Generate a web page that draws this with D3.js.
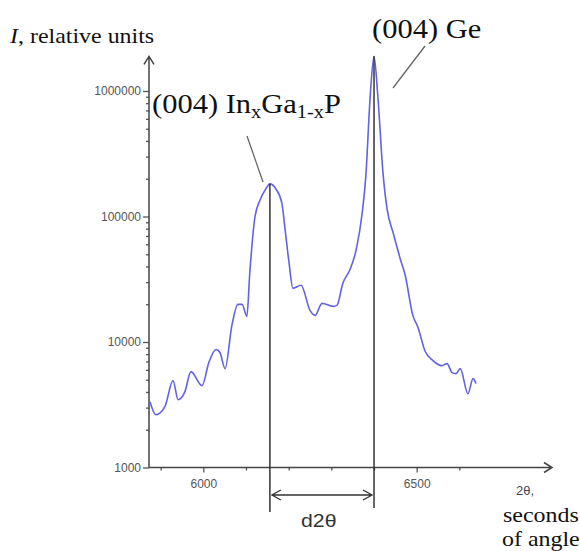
<!DOCTYPE html>
<meta charset="utf-8">
<style>
body { margin: 0; background: #fff; }
.tick text { font-family: "Liberation Sans", Arial, sans-serif; font-size: 12px; fill: #555; }
.axis line { stroke: #555; stroke-width: 1.3; }
.serif { font-family: "Liberation Serif", "Times New Roman", serif; fill: #111; }
</style>
<body>
<svg width="580" height="551" id="vis"></svg>
</body>
<script src="https://d3js.org/d3.v7.min.js"></script>
<script>
// 2theta (seconds of angle) and intensity (relative units)
var twoTheta = [5875, 5889, 5910, 5929, 5941, 5957, 5971, 5997, 6013, 6030, 6039, 6051,
  6067, 6081, 6091, 6102, 6109, 6121, 6133, 6145, 6156, 6170, 6184, 6191, 6201, 6210,
  6229, 6250, 6262, 6278, 6304, 6313, 6327, 6344, 6358, 6372, 6381, 6391, 6400, 6409,
  6421, 6431, 6445, 6461, 6473, 6491, 6503, 6520, 6538, 6559, 6571, 6583, 6592, 6602,
  6620, 6632, 6639];
var intensity = [3340, 2630, 3050, 4920, 3470, 4020, 5810, 4490, 6860, 8710, 8240, 6140,
  13550, 19950, 19950, 16000, 35980, 99080, 135500, 162900, 181970, 165960, 128230, 82410, 42460, 26790,
  28310, 17870, 16290, 20320, 19230, 19590, 29380, 38020, 53950, 104700, 214800, 903600, 1888000, 903600,
  222800, 112700, 73790, 46560, 34040, 16290, 13060, 8395, 7112, 6486, 6730, 5702, 5598, 6138,
  3873, 5105, 4656];

var yMajor = [1000, 10000, 100000, 1000000];
var yMinor = [];
[1000, 10000, 100000].forEach(function(d){ for (var k = 2; k < 10; k++) yMinor.push(d * k); });
var xMajor = [6000, 6500];
var xMinor = [5900, 6100, 6200, 6300, 6400, 6600];

var peakPos = [6156, 6400];      // (004) InGaP, (004) Ge
var peakI = [181970, 1888000];

var svg = d3.select("svg");

var x = d3.scaleLinear().domain([6000, 6500]).range([203.3, 416.7]);
var y = d3.scaleLog().domain([1000, 1000000]).range([467.5, 91]);

var x0 = 149, yTop = y(1888000), xEnd = 552;

// axes
svg.append("g").attr("class", "axis")
  .attr("transform", "translate(" + x0 + ",0)")
  .call(d3.axisLeft(y).tickValues(yMajor).tickSize(6).tickPadding(2).tickFormat(d3.format("d")));
svg.append("g").attr("class", "axis")
  .attr("transform", "translate(" + x0 + ",0)")
  .call(d3.axisLeft(y).tickValues(yMinor).tickSize(3).tickFormat(""));
svg.append("g").attr("class", "axis")
  .attr("transform", "translate(0," + y(1000) + ")")
  .call(d3.axisBottom(x).tickValues(xMajor).tickSize(5).tickPadding(7).tickFormat(d3.format("d")));
svg.append("g").attr("class", "axis")
  .attr("transform", "translate(0," + y(1000) + ")")
  .call(d3.axisBottom(x).tickValues(xMinor).tickSize(3).tickFormat(""));
svg.selectAll(".axis .domain").remove();

var axisCol = "#444";
svg.append("path")
  .attr("d", "M" + x0 + "," + y(1000) + "V" + yTop + "M" + (x0 - 5) + "," + (yTop + 8) + "L" + x0 + "," + yTop + "L" + (x0 + 5) + "," + (yTop + 8))
  .attr("fill", "none").attr("stroke", axisCol).attr("stroke-width", 1.5);
svg.append("path")
  .attr("d", "M" + x0 + "," + y(1000) + "H" + xEnd + "M" + (xEnd - 8) + "," + (y(1000) - 5) + "L" + xEnd + "," + y(1000) + "L" + (xEnd - 8) + "," + (y(1000) + 5))
  .attr("fill", "none").attr("stroke", axisCol).attr("stroke-width", 1.5);

// curve
var data = twoTheta.map(function(d, i){ return [d, intensity[i]]; });
var line = d3.line()
  .x(function(d){ return x(d[0]); })
  .y(function(d){ return y(d[1]); })
  .curve(d3.curveMonotoneX);
svg.append("path").datum(data)
  .attr("d", line)
  .attr("fill", "none")
  .attr("stroke", "#6262e4")
  .attr("stroke-width", 1.6)
  .attr("stroke-linejoin", "round");

// peak markers
var bottoms = [512, 508];
peakPos.forEach(function(p, i){
  svg.append("line")
    .attr("x1", x(p)).attr("x2", x(p))
    .attr("y1", y(peakI[i])).attr("y2", bottoms[i])
    .attr("stroke", "#333").attr("stroke-width", 1.5);
});

// d2theta arrow
var ay = 495, ax1 = x(peakPos[0]) + 2, ax2 = x(peakPos[1]) - 2;
svg.append("path")
  .attr("d", "M" + ax1 + "," + ay + "H" + ax2 +
    "M" + (ax1 + 9) + "," + (ay - 5) + "L" + ax1 + "," + ay + "L" + (ax1 + 9) + "," + (ay + 5) +
    "M" + (ax2 - 9) + "," + (ay - 5) + "L" + ax2 + "," + ay + "L" + (ax2 - 9) + "," + (ay + 5))
  .attr("fill", "none").attr("stroke", "#333").attr("stroke-width", 1.3);

svg.append("text")
  .attr("transform", "translate(301,527) scale(1.12,1)")
  .style("font-family", "'Liberation Sans', Arial, sans-serif")
  .style("font-size", "19px").style("fill", "#333")
  .text("d2θ");

// leader lines
svg.append("line").attr("x1", 247).attr("y1", 136).attr("x2", 263).attr("y2", 182)
  .attr("stroke", "#666").attr("stroke-width", 1.3);
svg.append("line").attr("x1", 425).attr("y1", 46).attr("x2", 393).attr("y2", 88)
  .attr("stroke", "#666").attr("stroke-width", 1.3);

// labels
var t1 = svg.append("text").attr("class", "serif")
  .attr("transform", "translate(10,43) scale(1.14,1)").style("font-size", "21px");
t1.append("tspan").style("font-style", "italic").text("I");
t1.append("tspan").text(", relative units");

var t2 = svg.append("text").attr("class", "serif")
  .attr("transform", "translate(152,113) scale(1.13,1)").style("font-size", "27px");
t2.append("tspan").text("(004) In");
t2.append("tspan").attr("dy", 5).style("font-size", "18px").text("x");
t2.append("tspan").attr("dy", -5).text("Ga");
t2.append("tspan").attr("dy", 5).style("font-size", "18px").text("1-x");
t2.append("tspan").attr("dy", -5).text("P");

svg.append("text").attr("class", "serif")
  .attr("transform", "translate(372,38) scale(1.13,1)").style("font-size", "27px")
  .text("(004) Ge");

svg.append("text")
  .attr("x", 516).attr("y", 495)
  .style("font-family", "'Liberation Sans', Arial, sans-serif")
  .style("font-size", "13px").style("fill", "#445")
  .text("2θ,");
svg.append("text").attr("class", "serif")
  .attr("transform", "translate(503,522) scale(1.14,1)").style("font-size", "21px")
  .text("seconds");
svg.append("text").attr("class", "serif")
  .attr("transform", "translate(502,546) scale(1.14,1)").style("font-size", "21px")
  .text("of angle");
</script>
